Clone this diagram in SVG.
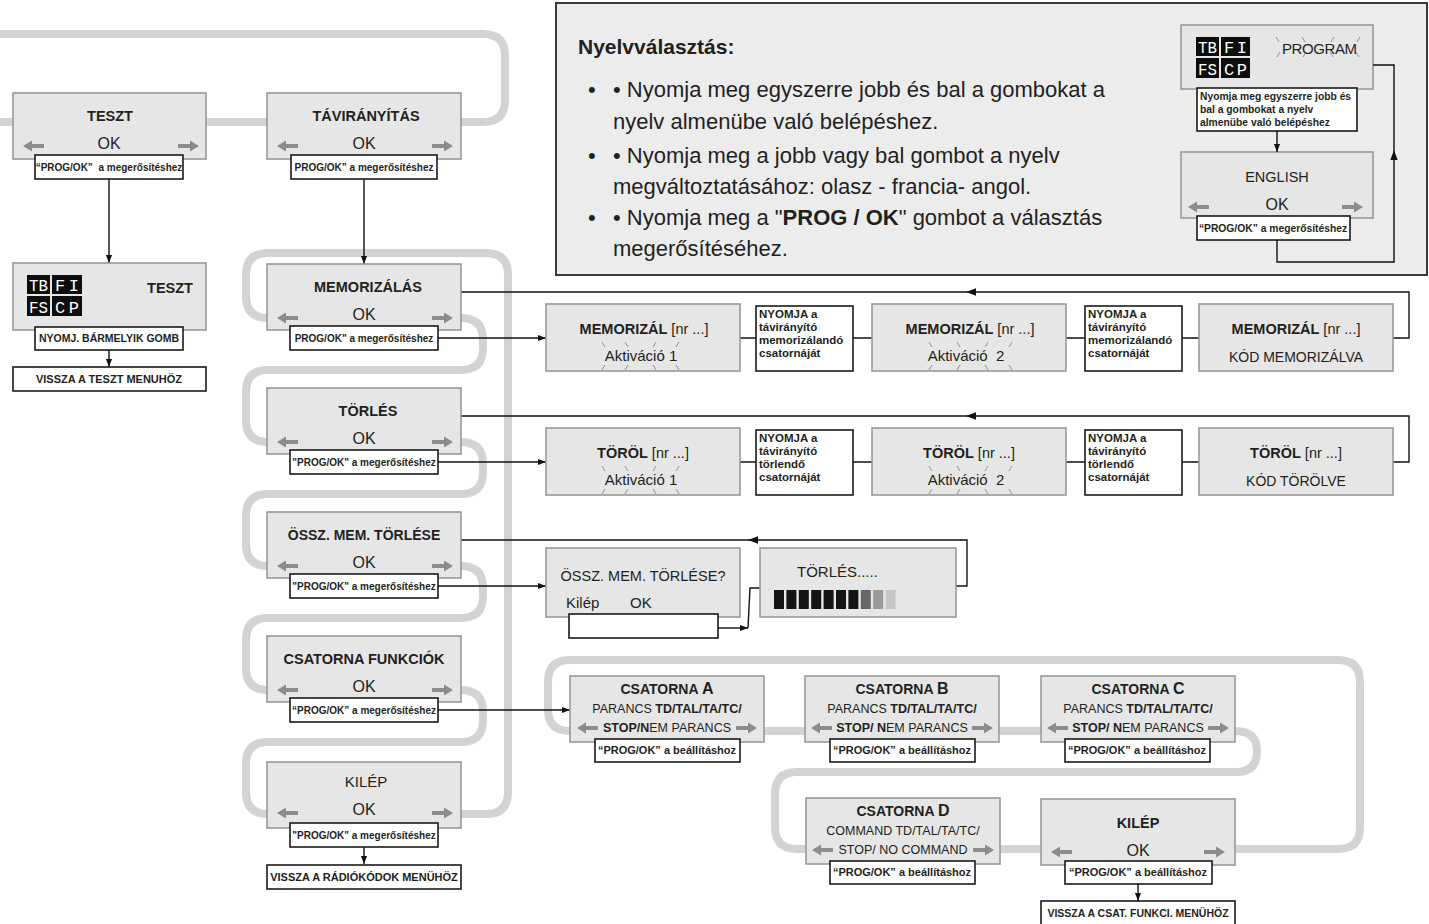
<svg xmlns="http://www.w3.org/2000/svg" width="1429" height="924" viewBox="0 0 1429 924">
<style>
text{font-family:"Liberation Sans",Arial,Helvetica,sans-serif;fill:#231f20}
.trk{fill:none;stroke:#d3d3d3;stroke-width:8}
.box{fill:#e6e6e6;stroke:#999;stroke-width:1.6}
.lbl{fill:#fff;stroke:#1a1a1a;stroke-width:1.6}
.cn{fill:none;stroke:#111;stroke-width:1.4}
.ah{fill:#111}
.h{font-weight:bold;font-size:14.5px}
.ok{font-size:16px}
.lt{font-weight:bold;font-size:10px}
.l11{font-weight:bold;font-size:11px}
.ny{font-weight:bold;font-size:11.5px}
.r{font-size:14.5px}
.ga{fill:#8c8c8c}
.sp{stroke:#777;stroke-width:0.8;fill:none}
.blk{fill:#0d0d0d}
.mono{font-family:"Liberation Mono","DejaVu Sans Mono",monospace;fill:#fff;font-size:17px}
.m{text-anchor:middle}
.c12{font-size:12.5px}
.b{font-weight:bold}
</style>
<defs>
<marker id="ah" viewBox="0 0 10 10" refX="10" refY="5" markerWidth="8" markerHeight="8" markerUnits="userSpaceOnUse" orient="auto"><path d="M0,1.2 L10,5 L0,8.8 Z" fill="#111"/></marker>
<path id="la" d="M0,0 L9,-5.5 V-2 H21 V2 H9 V5.5 Z"/>
<path id="ra" d="M21,0 L12,-5.5 V-2 H0 V2 H12 V5.5 Z"/>
</defs>
<rect x="0" y="0" width="1429" height="924" fill="#fff"/>

<g id="tracks">
<path class="trk" d="M0,34 H483 Q505,34 505,56 V100 Q505,122 483,122 H0"/>
<path class="trk" d="M461,814 H486 Q508,814 508,792 V275 Q508,253 486,253 H268 Q246,253 246,275 V296 Q246,318 268,318 H272"/>
<path class="trk" d="M461,318 Q483,318 483,340 V348 Q483,370 461,370 H268 Q246,370 246,392 V420 Q246,442 268,442 H272"/>
<path class="trk" d="M461,442 Q483,442 483,464 V472 Q483,494 461,494 H268 Q246,494 246,516 V544 Q246,566 268,566 H272"/>
<path class="trk" d="M461,566 Q483,566 483,588 V596 Q483,618 461,618 H268 Q246,618 246,640 V668 Q246,690 268,690 H272"/>
<path class="trk" d="M461,690 Q483,690 483,712 V720 Q483,742 461,742 H268 Q246,742 246,764 V792 Q246,814 268,814 H272"/>
<path class="trk" d="M1235,849 H1338 Q1360,849 1360,827 V682 Q1360,660 1338,660 H570 Q548,660 548,682 V709 Q548,731 570,731 H575"/>
<path class="trk" d="M764,731 H805 M999,731 H1041"/>
<path class="trk" d="M1235,731 Q1257,731 1257,751 Q1257,772 1236,772 H797 Q775,772 775,794 V827 Q775,849 797,849 H806"/>
<path class="trk" d="M1000,849 H1041"/>
</g>

<g id="connectors">
<path class="cn" d="M109,179 V263" marker-end="url(#ah)"/>
<path class="cn" d="M364,179 V264" marker-end="url(#ah)"/>
<path class="cn" d="M109,350 V367" marker-end="url(#ah)"/>
<path class="cn" d="M364,846 V864" marker-end="url(#ah)"/>
<path class="cn" d="M1138,884 V901" marker-end="url(#ah)"/>
<path class="cn" d="M461,292 H1409 V338 H1393"/>
<polygon class="ah" points="966,292 976,288.3 976,295.7"/>
<path class="cn" d="M438,338 H546" marker-end="url(#ah)"/>
<path class="cn" d="M740,338 H756 M853,338 H872 M1066,338 H1085 M1182,338 H1199"/>
<path class="cn" d="M461,416 H1409 V462 H1393"/>
<polygon class="ah" points="966,416 976,412.3 976,419.7"/>
<path class="cn" d="M438,462 H546" marker-end="url(#ah)"/>
<path class="cn" d="M740,462 H756 M853,462 H872 M1066,462 H1085 M1182,462 H1199"/>
<path class="cn" d="M461,540 H967 V586 H956"/>
<polygon class="ah" points="748,540 758,536.3 758,543.7"/>
<path class="cn" d="M438,586 H546" marker-end="url(#ah)"/>
<path class="cn" d="M718,628 H748" marker-end="url(#ah)"/>
<path class="cn" d="M748,628 L750,588 H760"/>
<path class="cn" d="M438,710 H570" marker-end="url(#ah)"/>
</g>

<g id="n-teszt">
<rect class="box" x="13" y="93" width="193" height="66"/>
<text class="h m" x="110" y="121">TESZT</text>
<text class="ok m" x="109" y="149">OK</text>
<use href="#la" x="23" y="146" class="ga"/>
<use href="#ra" x="178" y="146" class="ga"/>
<rect class="lbl" x="35" y="155" width="148" height="24"/>
<text class="lt m" x="109" y="171" xml:space="preserve">“PROG/OK”  a megerősítéshez</text>
</g>

<g id="n-taviranyitas">
<rect class="box" x="267" y="93" width="194" height="66"/>
<text class="h m" x="366" y="121">TÁVIRÁNYÍTÁS</text>
<text class="ok m" x="364" y="149">OK</text>
<use href="#la" x="277" y="146" class="ga"/>
<use href="#ra" x="432" y="146" class="ga"/>
<rect class="lbl" x="291" y="155" width="146" height="24"/>
<text class="lt m" x="364" y="171">PROG/OK” a megerősítéshez</text>
</g>

<g id="n-teszt-display">
<rect class="box" x="13" y="263" width="193" height="67"/>
<rect class="blk" x="27" y="275" width="23" height="19"/>
<rect class="blk" x="52" y="275" width="30" height="19"/>
<rect class="blk" x="27" y="296" width="23" height="20"/>
<rect class="blk" x="52" y="296" width="30" height="20"/>
<text class="mono" x="29" y="291" textLength="19" lengthAdjust="spacingAndGlyphs">TB</text>
<text class="mono" x="55" y="291" textLength="24">FI</text>
<text class="mono" x="29" y="313" textLength="19" lengthAdjust="spacingAndGlyphs">FS</text>
<text class="mono" x="55" y="313" textLength="24">CP</text>
<text class="h m" x="170" y="293">TESZT</text>
<rect class="lbl" x="35" y="327" width="148" height="23"/>
<text class="m b" x="109" y="342" style="font-size:10.5px">NYOMJ. BÁRMELYIK GOMB</text>
</g>

<g id="n-vissza-teszt">
<rect class="lbl" x="13" y="367" width="193" height="24"/>
<text class="l11 m" x="109" y="383">VISSZA A TESZT MENUHÖZ</text>
</g>

<g id="n-memorizalas">
<rect class="box" x="267" y="264" width="194" height="66"/>
<text class="h m" x="368" y="292">MEMORIZÁLÁS</text>
<text class="ok m" x="364" y="320">OK</text>
<use href="#la" x="277" y="318" class="ga"/>
<use href="#ra" x="432" y="318" class="ga"/>
<rect class="lbl" x="290" y="326" width="148" height="24"/>
<text class="lt m" x="364" y="342">PROG/OK" a megerősítéshez</text>
</g>

<g id="n-torles">
<rect class="box" x="267" y="388" width="194" height="66"/>
<text class="h m" x="368" y="416">TÖRLÉS</text>
<text class="ok m" x="364" y="444">OK</text>
<use href="#la" x="277" y="442" class="ga"/>
<use href="#ra" x="432" y="442" class="ga"/>
<rect class="lbl" x="290" y="450" width="148" height="24"/>
<text class="lt m" x="364" y="466">"PROG/OK" a megerősítéshez</text>
</g>

<g id="n-ossz">
<rect class="box" x="267" y="512" width="194" height="66"/>
<text class="h m" x="364" y="540" style="font-size:14px">ÖSSZ. MEM. TÖRLÉSE</text>
<text class="ok m" x="364" y="568">OK</text>
<use href="#la" x="277" y="566" class="ga"/>
<use href="#ra" x="432" y="566" class="ga"/>
<rect class="lbl" x="290" y="574" width="148" height="24"/>
<text class="lt m" x="364" y="590">"PROG/OK" a megerősítéshez</text>
</g>

<g id="n-csatorna-funkciok">
<rect class="box" x="267" y="636" width="194" height="66"/>
<text class="h m" x="364" y="664">CSATORNA FUNKCIÓK</text>
<text class="ok m" x="364" y="692">OK</text>
<use href="#la" x="277" y="690" class="ga"/>
<use href="#ra" x="432" y="690" class="ga"/>
<rect class="lbl" x="290" y="698" width="148" height="24"/>
<text class="lt m" x="364" y="714">“PROG/OK” a megerősítéshez</text>
</g>

<g id="n-kilep">
<rect class="box" x="267" y="762" width="194" height="66"/>
<text class="m" x="366" y="787" style="font-size:15px">KILÉP</text>
<text class="ok m" x="364" y="815">OK</text>
<use href="#la" x="277" y="813" class="ga"/>
<use href="#ra" x="432" y="813" class="ga"/>
<rect class="lbl" x="290" y="823" width="148" height="24"/>
<text class="lt m" x="364" y="839">"PROG/OK" a megerősítéshez</text>
</g>

<g id="n-vissza-radio">
<rect class="lbl" x="267" y="865" width="194" height="24"/>
<text class="l11 m" x="364" y="881">VISSZA A RÁDIÓKÓDOK MENÜHÖZ</text>
</g>

<g id="n-mem1">
<rect class="box" x="546" y="304" width="194" height="67"/>
<text class="m" x="644" y="334" style="font-size:14.5px"><tspan class="b">MEMORIZÁL</tspan> [nr ...]</text>
<text class="m" x="641" y="361" style="font-size:15px">Aktiváció 1</text>
<path class="sp" d="M602,342 l3,5 M625,342 l3,5 M656,342 l-3,5 M679,342 l-3,5 M605,365 l-3,5 M628,365 l-3,5 M653,365 l3,5 M676,365 l3,5"/>
</g>
<g id="n-nyomja-m1">
<rect class="lbl" x="756" y="306" width="97" height="65"/>
<text class="ny" x="759" y="318">NYOMJA a</text>
<text class="ny" x="759" y="331">távirányító</text>
<text class="ny" x="759" y="344">memorizálandó</text>
<text class="ny" x="759" y="357">csatornáját</text>
</g>
<g id="n-mem2">
<rect class="box" x="872" y="304" width="194" height="67"/>
<text class="m" x="970" y="334" style="font-size:14.5px"><tspan class="b">MEMORIZÁL</tspan> [nr ...]</text>
<text class="m" x="966" y="361" style="font-size:15px" xml:space="preserve">Aktiváció  2</text>
<path class="sp" d="M929,342 l3,5 M957,342 l3,5 M988,342 l-3,5 M1012,342 l-3,5 M932,365 l-3,5 M960,365 l-3,5 M985,365 l3,5 M1009,365 l3,5"/>
</g>
<g id="n-nyomja-m2">
<rect class="lbl" x="1085" y="306" width="97" height="65"/>
<text class="ny" x="1088" y="318">NYOMJA a</text>
<text class="ny" x="1088" y="331">távirányító</text>
<text class="ny" x="1088" y="344">memorizálandó</text>
<text class="ny" x="1088" y="357">csatornáját</text>
</g>
<g id="n-mem3">
<rect class="box" x="1199" y="304" width="194" height="67"/>
<text class="m" x="1296" y="334" style="font-size:14.5px"><tspan class="b">MEMORIZÁL</tspan> [nr ...]</text>
<text class="m" x="1296" y="362" style="font-size:14px">KÓD MEMORIZÁLVA</text>
</g>

<g id="n-tor1">
<rect class="box" x="546" y="428" width="194" height="67"/>
<text class="m" x="643" y="458" style="font-size:14.5px"><tspan class="b">TÖRÖL</tspan> [nr ...]</text>
<text class="m" x="641" y="485" style="font-size:15px">Aktiváció 1</text>
<path class="sp" d="M602,466 l3,5 M625,466 l3,5 M656,466 l-3,5 M679,466 l-3,5 M605,489 l-3,5 M628,489 l-3,5 M653,489 l3,5 M676,489 l3,5"/>
</g>
<g id="n-nyomja-t1">
<rect class="lbl" x="756" y="430" width="97" height="65"/>
<text class="ny" x="759" y="442">NYOMJA a</text>
<text class="ny" x="759" y="455">távirányító</text>
<text class="ny" x="759" y="468">törlendő</text>
<text class="ny" x="759" y="481">csatornáját</text>
</g>
<g id="n-tor2">
<rect class="box" x="872" y="428" width="194" height="67"/>
<text class="m" x="969" y="458" style="font-size:14.5px"><tspan class="b">TÖRÖL</tspan> [nr ...]</text>
<text class="m" x="966" y="485" style="font-size:15px" xml:space="preserve">Aktiváció  2</text>
<path class="sp" d="M929,466 l3,5 M957,466 l3,5 M988,466 l-3,5 M1012,466 l-3,5 M932,489 l-3,5 M960,489 l-3,5 M985,489 l3,5 M1009,489 l3,5"/>
</g>
<g id="n-nyomja-t2">
<rect class="lbl" x="1085" y="430" width="97" height="65"/>
<text class="ny" x="1088" y="442">NYOMJA a</text>
<text class="ny" x="1088" y="455">távirányító</text>
<text class="ny" x="1088" y="468">törlendő</text>
<text class="ny" x="1088" y="481">csatornáját</text>
</g>
<g id="n-tor3">
<rect class="box" x="1199" y="428" width="194" height="67"/>
<text class="m" x="1296" y="458" style="font-size:14.5px"><tspan class="b">TÖRÖL</tspan> [nr ...]</text>
<text class="m" x="1296" y="486" style="font-size:14px">KÓD TÖRÖLVE</text>
</g>

<g id="n-ossz-kerdes">
<rect class="box" x="546" y="548" width="194" height="69"/>
<text class="m" x="643" y="581" style="font-size:14.5px">ÖSSZ. MEM. TÖRLÉSE?</text>
<text x="566" y="608" style="font-size:15px">Kilép</text>
<text x="630" y="608" style="font-size:15px">OK</text>
<rect class="lbl" x="569" y="614" width="149" height="24"/>
</g>
<g id="n-torles-progress">
<rect class="box" x="760" y="548" width="196" height="69"/>
<text x="797" y="577" style="font-size:15px">TÖRLÉS.....</text>
<g fill="#141414">
<rect x="774" y="590" width="10" height="19"/><rect x="786.4" y="590" width="10" height="19"/><rect x="798.8" y="590" width="10" height="19"/><rect x="811.2" y="590" width="10" height="19"/><rect x="823.6" y="590" width="10" height="19"/><rect x="836" y="590" width="10" height="19"/><rect x="848.4" y="590" width="10" height="19"/>
</g>
<rect x="860.8" y="590" width="10" height="19" fill="#666"/>
<rect x="873.2" y="590" width="10" height="19" fill="#999"/>
<rect x="885.6" y="590" width="10" height="19" fill="#c6c6c6"/>
</g>

<g id="n-csat-a">
<rect class="box" x="570" y="676" width="194" height="66"/>
<text class="m b" x="667" y="694" style="font-size:14px">CSATORNA <tspan style="font-size:16px">A</tspan></text>
<text class="m c12" x="667" y="713">PARANCS <tspan class="b">TD/TAL/TA/TC/</tspan></text>
<text class="m c12" x="667" y="732"><tspan class="b">STOP/N</tspan>EM PARANCS</text>
<use href="#la" x="577" y="728" class="ga"/>
<use href="#ra" x="736" y="728" class="ga"/>
<rect class="lbl" x="595" y="739" width="145" height="23"/>
<text class="l11 m" x="667" y="754">“PROG/OK” a beállításhoz</text>
</g>
<g id="n-csat-b">
<rect class="box" x="805" y="676" width="194" height="66"/>
<text class="m b" x="902" y="694" style="font-size:14px">CSATORNA <tspan style="font-size:16px">B</tspan></text>
<text class="m c12" x="902" y="713">PARANCS <tspan class="b">TD/TAL/TA/TC/</tspan></text>
<text class="m c12" x="902" y="732" xml:space="preserve"><tspan class="b">STOP/ N</tspan>EM PARANCS</text>
<use href="#la" x="811" y="728" class="ga"/>
<use href="#ra" x="972" y="728" class="ga"/>
<rect class="lbl" x="830" y="739" width="145" height="23"/>
<text class="l11 m" x="902" y="754">“PROG/OK” a beállításhoz</text>
</g>
<g id="n-csat-c">
<rect class="box" x="1041" y="676" width="194" height="66"/>
<text class="m b" x="1138" y="694" style="font-size:14px">CSATORNA <tspan style="font-size:16px">C</tspan></text>
<text class="m c12" x="1138" y="713">PARANCS <tspan class="b">TD/TAL/TA/TC/</tspan></text>
<text class="m c12" x="1138" y="732" xml:space="preserve"><tspan class="b">STOP/ N</tspan>EM PARANCS</text>
<use href="#la" x="1047" y="728" class="ga"/>
<use href="#ra" x="1208" y="728" class="ga"/>
<rect class="lbl" x="1065" y="739" width="145" height="23"/>
<text class="l11 m" x="1137" y="754">“PROG/OK” a beállításhoz</text>
</g>
<g id="n-csat-d">
<rect class="box" x="806" y="798" width="194" height="66"/>
<text class="m b" x="903" y="816" style="font-size:14px">CSATORNA <tspan style="font-size:16px">D</tspan></text>
<text class="m c12" x="903" y="835">COMMAND TD/TAL/TA/TC/</text>
<text class="m c12" x="903" y="854">STOP/ NO COMMAND</text>
<use href="#la" x="812" y="850" class="ga"/>
<use href="#ra" x="973" y="850" class="ga"/>
<rect class="lbl" x="830" y="861" width="145" height="23"/>
<text class="l11 m" x="902" y="876">“PROG/OK” a beállításhoz</text>
</g>
<g id="n-kilep-csat">
<rect class="box" x="1041" y="799" width="194" height="66"/>
<text class="h m" x="1138" y="828">KILÉP</text>
<text class="ok m" x="1138" y="856">OK</text>
<use href="#la" x="1051" y="852" class="ga"/>
<use href="#ra" x="1204" y="852" class="ga"/>
<rect class="lbl" x="1065" y="861" width="147" height="23"/>
<text class="l11 m" x="1138" y="876">“PROG/OK” a beállításhoz</text>
</g>
<g id="n-vissza-csat">
<rect class="lbl" x="1041" y="901" width="194" height="30"/>
<text class="m b" x="1138" y="917" style="font-size:10.5px">VISSZA A CSAT. FUNKCI. MENÜHÖZ</text>
</g>

<g id="n-nyelv">
<rect x="556" y="3" width="871" height="272" fill="#ececec" stroke="#3a3a3a" stroke-width="2"/>
<text x="578" y="54" class="b" style="font-size:21px">Nyelvválasztás:</text>
<text x="588" y="97" style="font-size:22px">•</text>
<text x="613" y="97" style="font-size:22px">• Nyomja meg egyszerre jobb és bal a gombokat a</text>
<text x="613" y="129" style="font-size:22px">nyelv almenübe való belépéshez.</text>
<text x="588" y="163" style="font-size:22px">•</text>
<text x="613" y="163" style="font-size:22px">• Nyomja meg a jobb vagy bal gombot a nyelv</text>
<text x="613" y="194" style="font-size:22px">megváltoztatásához: olasz - francia- angol.</text>
<text x="588" y="225" style="font-size:22px">•</text>
<text x="613" y="225" style="font-size:22px">• Nyomja meg a "<tspan class="b">PROG / OK</tspan>" gombot a választás</text>
<text x="613" y="256" style="font-size:22px">megerősítéséhez.</text>
</g>

<g id="n-program">
<rect class="box" x="1181" y="25" width="192" height="64"/>
<rect class="blk" x="1196" y="37" width="23" height="19"/>
<rect class="blk" x="1221" y="37" width="29" height="19"/>
<rect class="blk" x="1196" y="58" width="23" height="20"/>
<rect class="blk" x="1221" y="58" width="29" height="20"/>
<text class="mono" x="1198" y="53" textLength="19" lengthAdjust="spacingAndGlyphs">TB</text>
<text class="mono" x="1224" y="53" textLength="23">FI</text>
<text class="mono" x="1198" y="75" textLength="19" lengthAdjust="spacingAndGlyphs">FS</text>
<text class="mono" x="1224" y="75" textLength="23">CP</text>
<text x="1282" y="54" style="font-size:15px" textLength="75">PROGRAM</text>
<path class="sp" d="M1276,37 l3,5 M1302,37 l3,5 M1334,37 l-3,5 M1360,37 l-3,5 M1280,52 l-3,5 M1306,52 l-3,5 M1330,52 l3,5 M1356,52 l3,5"/>
<rect class="lbl" x="1197" y="88" width="160" height="43"/>
<text class="b" x="1200" y="100" style="font-size:10.3px">Nyomja meg egyszerre jobb és</text>
<text class="b" x="1200" y="113" style="font-size:10.3px">bal a gombokat a nyelv</text>
<text class="b" x="1200" y="126" style="font-size:10.3px">almenübe való belépéshez</text>
</g>
<g id="n-english">
<rect class="box" x="1181" y="152" width="192" height="66"/>
<text class="m" x="1277" y="182" style="font-size:14.5px">ENGLISH</text>
<text class="ok m" x="1277" y="210">OK</text>
<use href="#la" x="1188" y="207" class="ga"/>
<use href="#ra" x="1342" y="207" class="ga"/>
<rect class="lbl" x="1197" y="216" width="153" height="24"/>
<text class="m b" x="1273" y="232" style="font-size:10.3px">“PROG/OK” a megerősítéshez</text>
</g>
<g id="nyelv-connectors">
<path class="cn" d="M1277,131 V152" marker-end="url(#ah)"/>
<path class="cn" d="M1277,240 V262 H1394 V65 H1373"/>
<polygon class="ah" points="1394,150 1390.3,160 1397.7,160"/>
</g>
</svg>
